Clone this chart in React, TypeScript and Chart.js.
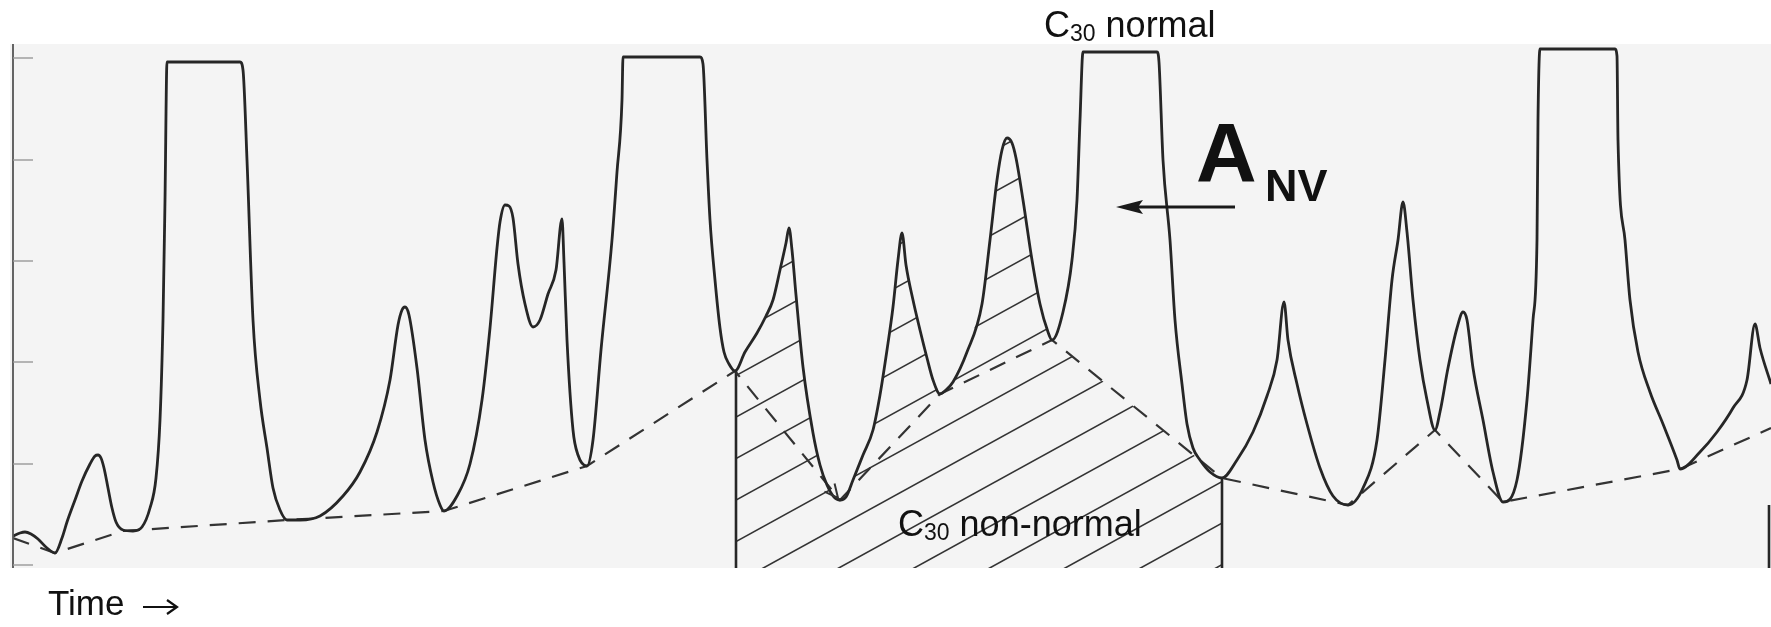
import { useEffect, useRef } from "react";
import { Chart, registerables } from "chart.js";

Chart.register(...registerables);

// ---- data (time units along x, detector signal along y) ----
const CURVE_T = [
  13, 20, 25, 31, 38, 47, 55,
  62, 67, 75, 82, 90, 95, 98,
  101, 104, 108, 112, 116, 123, 133,
  142, 150, 156, 160, 163, 165, 167,
  240, 243, 247, 253, 260, 267, 273,
  280, 287, 300, 320, 343, 360, 377,
  390, 398, 402, 405, 409, 417, 425,
  433, 440, 444, 457, 470, 482, 490,
  497, 500, 505, 509, 513, 518, 525,
  533, 540, 548, 556, 562, 564, 567,
  573, 578, 587, 593, 601, 612, 617,
  622, 623, 700, 703, 707, 710, 715,
  720, 724, 729, 735, 745, 757, 766,
  773, 780, 786, 789, 792, 796, 803,
  813, 820, 827, 834, 840, 846, 853,
  863, 873, 880, 887, 893, 898, 902,
  906, 913, 920, 927, 933, 940, 946,
  953, 967, 982, 990, 997, 1002, 1007,
  1012, 1016, 1023, 1032, 1040, 1048, 1052,
  1063, 1072, 1077, 1080, 1083, 1157, 1159,
  1163, 1170, 1175, 1182, 1187, 1193, 1200,
  1210, 1222, 1237, 1253, 1267, 1277, 1284,
  1288, 1297, 1307, 1320, 1333, 1348, 1363,
  1377, 1385, 1392, 1398, 1403, 1407, 1413,
  1420, 1427, 1435, 1440, 1448, 1457, 1463,
  1467, 1473, 1483, 1493, 1503, 1517, 1527,
  1533, 1537, 1538, 1540, 1615, 1617, 1618,
  1625, 1630, 1638, 1650, 1663, 1677, 1680,
  1700, 1717, 1733, 1747, 1755, 1760, 1771,
];
const CURVE_S = [
  29, 32, 33, 31, 26, 17, 12,
  27, 43, 65, 84, 101, 109, 110,
  107, 97, 77, 57, 43, 35, 34,
  38, 57, 87, 145, 245, 365, 503,
  503, 495, 405, 245, 165, 117, 77,
  55, 45, 45, 49, 69, 93, 133,
  185, 240, 255, 258, 250, 197, 125,
  83, 60, 54, 69, 101, 165, 237,
  317, 343, 360, 359, 347, 301, 261,
  238, 245, 271, 295, 346, 303, 225,
  135, 110, 99, 125, 215, 325, 393,
  465, 508, 508, 501, 405, 345, 285,
  237, 213, 201, 194, 213, 232, 249,
  265, 295, 322, 337, 315, 270, 198,
  132, 100, 80, 68, 65, 68, 85,
  110, 135, 170, 215, 258, 305, 332,
  300, 265, 235, 207, 185, 171, 175,
  183, 213, 261, 325, 385, 415, 427,
  422, 407, 365, 305, 261, 233, 225,
  253, 305, 365, 445, 513, 513, 503,
  405, 325, 245, 181, 141, 117, 105,
  93, 87, 105, 133, 169, 205, 263,
  225, 181, 141, 97, 69, 60, 77,
  125, 205, 285, 325, 363, 333, 265,
  205, 165, 135, 153, 197, 237, 253,
  245, 197, 145, 93, 63, 85, 165,
  245, 325, 445, 516, 516, 509, 425,
  325, 265, 213, 173, 141, 105, 96,
  113, 133, 157, 185, 241, 217, 181,
];

// dashed baseline through the valleys
const BASE_T = [13, 55, 123, 287, 444, 587, 735, 840, 940, 1052, 1222, 1348, 1435, 1503, 1680, 1771];
const BASE_S = [27, 12, 34, 45, 54, 99, 194, 65, 171, 225, 87, 60, 135, 63, 96, 137];

// hatched (C30 non-normal) region: curve between these times, then down to the valley point
const HATCH_FROM = 735;
const HATCH_TO = 1052;
const HATCH_END_T = 1222;
const HATCH_END_S = 87;
const HATCH_LEFT_T = 736;
const HATCH_LEFT_TOP = 194;

// edge of a further region, cut by the frame at the right
const RIGHT_EDGE_T = 1769;
const RIGHT_EDGE_TOP = 60;

// arrowhead at the end of the dashed drop to the valley
const DROP_FROM = [735, 194];
const DROP_TO = [838, 67];

// y-axis tick values
const Y_TICKS = [0, 101, 203, 304, 405, 507];

// axis ranges
const T_MIN = 13;
const T_MAX = 1771;
const S_MIN = -3;
const S_MAX = 521;

const FONT = '"Liberation Sans", Arial, Helvetica, sans-serif';
const INK = "#262626";

const pts = (t: number[], s: number[]) => t.map((x, i) => ({ x, y: s[i] }));

function buildHatch() {
  const out: { x: number; y: number }[] = [];
  CURVE_T.forEach((t, i) => {
    if (t >= HATCH_FROM && t <= HATCH_TO) out.push({ x: t, y: CURVE_S[i] });
  });
  out.push({ x: HATCH_END_T, y: HATCH_END_S });
  return out;
}

function drawParts(ctx: CanvasRenderingContext2D, x: number, y: number, parts: [string, number, number, string][]) {
  let cx = x;
  for (const [txt, size, dy, weight] of parts) {
    ctx.font = `${weight} ${size}px ${FONT}`;
    ctx.fillText(txt, cx, y + dy);
    cx += ctx.measureText(txt).width;
  }
  return cx;
}

const decorPlugin = {
  id: "decor",
  beforeDraw(chart: any) {
    const { ctx, chartArea: a } = chart;
    ctx.save();
    ctx.fillStyle = "#ffffff";
    ctx.fillRect(0, 0, chart.width, chart.height);
    ctx.fillStyle = "#f4f4f4";
    ctx.fillRect(a.left - 3, a.top, a.right - a.left + 3, a.bottom - a.top);
    ctx.restore();
  },
  beforeDatasetsDraw(chart: any) {
    const { ctx, chartArea: a, scales } = chart;
    const meta = chart.getDatasetMeta(2);
    const p = meta.data;
    if (!p || !p.length) return;
    const bottom = scales.y.getPixelForValue(S_MIN);
    ctx.save();
    ctx.beginPath();
    ctx.moveTo(p[0].x, p[0].y);
    for (let i = 1; i < p.length; i++) ctx.lineTo(p[i].x, p[i].y);
    ctx.lineTo(p[p.length - 1].x, bottom);
    ctx.lineTo(p[0].x, bottom);
    ctx.closePath();
    ctx.clip();
    const slope = 0.55;
    const gap = 41.5;
    const x0 = scales.x.getPixelForValue(HATCH_LEFT_T);
    const y0 = scales.y.getPixelForValue(65);
    ctx.strokeStyle = "#333";
    ctx.lineWidth = 1.6;
    for (let k = -40; k <= 40; k++) {
      const c = y0 + k * gap;
      ctx.beginPath();
      ctx.moveTo(a.left, c + slope * (x0 - a.left));
      ctx.lineTo(a.right, c - slope * (a.right - x0));
      ctx.stroke();
    }
    ctx.restore();
  },
  afterDatasetsDraw(chart: any) {
    const { ctx, chartArea: a, scales } = chart;
    const X = (t: number) => scales.x.getPixelForValue(t);
    const Y = (s: number) => scales.y.getPixelForValue(s);
    ctx.save();
    // y axis line and inward ticks
    ctx.strokeStyle = "#555";
    ctx.lineWidth = 1.8;
    ctx.beginPath();
    ctx.moveTo(a.left, a.top);
    ctx.lineTo(a.left, a.bottom);
    ctx.stroke();
    ctx.strokeStyle = "#999";
    ctx.lineWidth = 1.4;
    for (const v of Y_TICKS) {
      const y = Y(v);
      ctx.beginPath();
      ctx.moveTo(a.left, y);
      ctx.lineTo(a.left + 20, y);
      ctx.stroke();
    }
    // small arrowhead at the end of the dashed drop
    {
      const fx = X(DROP_FROM[0]), fy = Y(DROP_FROM[1]);
      const tx = X(DROP_TO[0]), ty = Y(DROP_TO[1]);
      const ang = Math.atan2(ty - fy, tx - fx);
      ctx.strokeStyle = "#333";
      ctx.lineWidth = 2;
      ctx.beginPath();
      ctx.moveTo(tx - 15 * Math.cos(ang - 0.45), ty - 15 * Math.sin(ang - 0.45));
      ctx.lineTo(tx, ty);
      ctx.lineTo(tx - 15 * Math.cos(ang + 0.45), ty - 15 * Math.sin(ang + 0.45));
      ctx.stroke();
    }
    // labels
    ctx.fillStyle = "#111";
    ctx.textBaseline = "alphabetic";
    ctx.textAlign = "left";
    drawParts(ctx, X(1044), Y(528), [["C", 36, 0, "normal"], ["30", 23, 4, "normal"], [" normal", 36, 0, "normal"]]);
    drawParts(ctx, X(898), Y(29), [["C", 36, 0, "normal"], ["30", 23, 4, "normal"], [" non-normal", 36, 0, "normal"]]);
    drawParts(ctx, X(48), Y(-50), [["Time", 35, 0, "normal"]]);
    // long arrow after "Time"
    {
      const x1 = X(143), x2 = X(177), y = Y(-42);
      ctx.strokeStyle = "#111";
      ctx.lineWidth = 2.2;
      ctx.beginPath();
      ctx.moveTo(x1, y);
      ctx.lineTo(x2 - 1, y);
      ctx.stroke();
      ctx.beginPath();
      ctx.moveTo(x2 - 10, y - 7);
      ctx.lineTo(x2, y);
      ctx.lineTo(x2 - 10, y + 7);
      ctx.stroke();
    }
    ctx.font = `bold 84px ${FONT}`;
    ctx.fillText("A", X(1196), Y(383));
    ctx.font = `bold 45px ${FONT}`;
    ctx.fillText("NV", X(1265), Y(364));
    // arrow pointing at the C30 normal peak
    const ay = Y(358);
    const tip = X(1116);
    ctx.strokeStyle = "#1a1a1a";
    ctx.lineWidth = 3;
    ctx.beginPath();
    ctx.moveTo(X(1235), ay);
    ctx.lineTo(tip + 20, ay);
    ctx.stroke();
    ctx.fillStyle = "#1a1a1a";
    ctx.beginPath();
    ctx.moveTo(tip, ay);
    ctx.lineTo(tip + 27, ay - 7);
    ctx.lineTo(tip + 22, ay);
    ctx.lineTo(tip + 27, ay + 7);
    ctx.closePath();
    ctx.fill();
    ctx.restore();
  },
};

export default function App() {
  const ref = useRef<HTMLCanvasElement | null>(null);
  useEffect(() => {
    if (!ref.current) return;
    const chart = new Chart(ref.current, {
      type: "line",
      data: {
        datasets: [
          {
            data: pts(CURVE_T, CURVE_S),
            borderColor: INK,
            borderWidth: 2.8,
            pointRadius: 0,
            cubicInterpolationMode: "monotone",
            fill: false,
          },
          {
            data: pts(BASE_T, BASE_S),
            borderColor: "#333",
            borderWidth: 2.2,
            borderDash: [17, 12],
            pointRadius: 0,
            tension: 0,
            fill: false,
          },
          {
            data: buildHatch(),
            borderColor: "rgba(0,0,0,0)",
            borderWidth: 0,
            pointRadius: 0,
            cubicInterpolationMode: "monotone",
            fill: false,
          },
          {
            data: [
              { x: HATCH_LEFT_T, y: HATCH_LEFT_TOP },
              { x: HATCH_LEFT_T, y: S_MIN },
            ],
            borderColor: INK,
            borderWidth: 2.6,
            pointRadius: 0,
            fill: false,
          },
          {
            data: [
              { x: HATCH_END_T, y: HATCH_END_S },
              { x: HATCH_END_T, y: S_MIN },
            ],
            borderColor: INK,
            borderWidth: 2.6,
            pointRadius: 0,
            fill: false,
          },
          {
            data: [
              { x: RIGHT_EDGE_T, y: RIGHT_EDGE_TOP },
              { x: RIGHT_EDGE_T, y: S_MIN },
            ],
            borderColor: INK,
            borderWidth: 2.6,
            pointRadius: 0,
            fill: false,
          },
        ],
      },
      options: {
        responsive: true,
        maintainAspectRatio: false,
        animation: false,
        events: [],
        layout: { padding: { left: 13, right: 0, top: 44, bottom: 59 } },
        scales: {
          x: { type: "linear", min: T_MIN, max: T_MAX, display: false },
          y: { type: "linear", min: S_MIN, max: S_MAX, display: false },
        },
        plugins: { legend: { display: false }, tooltip: { enabled: false } },
      },
      plugins: [decorPlugin],
    });
    return () => chart.destroy();
  }, []);
  return (
    <div style={{ position: "fixed", left: 0, top: 0, width: 1771, height: 627, background: "#fff" }}>
      <canvas ref={ref} />
    </div>
  );
}
